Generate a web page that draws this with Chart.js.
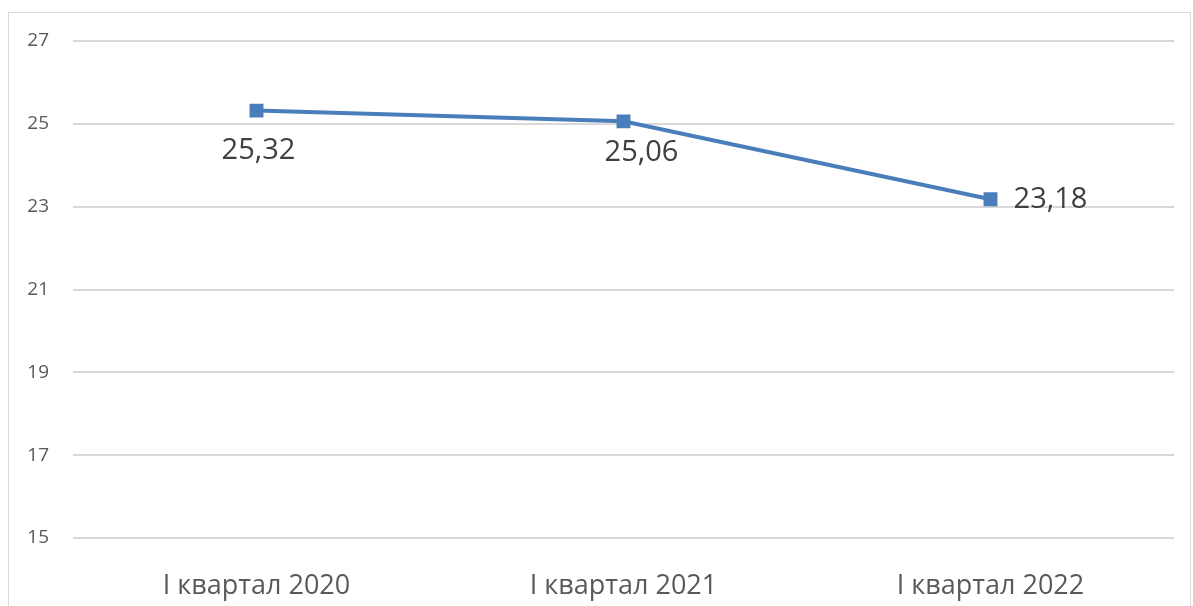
<!DOCTYPE html>
<html>
<head>
<meta charset="utf-8">
<script src="https://cdn.jsdelivr.net/npm/chart.js@4"></script>
<style>
  html, body { margin: 0; padding: 0; background: #fff; overflow: hidden; }
  #wrap { position: relative; width: 1193px; height: 606px; }
  #frame { position: absolute; left: 8px; top: 12px; width: 1183px; height: 620px; border: 1px solid #d9d9d9; box-sizing: border-box; }
  canvas { position: absolute; left: 0; top: 0; }
</style>
</head>
<body>
<div id="wrap">
  <div id="frame"></div>
  <canvas id="chart" width="1193" height="606"></canvas>
</div>
<script>
const labels = ['I квартал 2020', 'I квартал 2021', 'I квартал 2022'];
const values = [25.32, 25.06, 23.18];
const valueText = ['25,32', '25,06', '23,18'];

// where each value label sits relative to its point
const labelOffsets = [[2, 40], [18, 31], [60, 1]];

const valueLabels = {
  id: 'valueLabels',
  afterDatasetsDraw(chart) {
    const ctx = chart.ctx;
    const meta = chart.getDatasetMeta(0);
    ctx.save();
    ctx.font = '29px "Open Sans"';
    ctx.fillStyle = '#404040';
    ctx.textAlign = 'center';
    ctx.textBaseline = 'middle';
    meta.data.forEach((pt, i) => {
      ctx.fillText(valueText[i], pt.x + labelOffsets[i][0], pt.y + labelOffsets[i][1]);
    });
    ctx.restore();
  }
};

new Chart(document.getElementById('chart'), {
  type: 'line',
  data: {
    labels: labels,
    datasets: [{
      data: values,
      borderColor: '#4a7ebb',
      backgroundColor: '#4a7ebb',
      borderWidth: 4,
      pointStyle: 'rect',
      pointRadius: 7,
      pointHoverRadius: 7,
      tension: 0
    }]
  },
  options: {
    responsive: false,
    animation: false,
    layout: { padding: { left: 0, top: 41, right: 19, bottom: 0 } },
    plugins: {
      legend: { display: false },
      tooltip: { enabled: false }
    },
    scales: {
      x: {
        offset: true,
        grid: { display: false },
        border: { display: false },
        ticks: { color: '#595959', font: { family: 'Open Sans', size: 27 }, padding: 24 },
        afterFit: s => { s.height = 68; }
      },
      y: {
        min: 15,
        max: 27,
        ticks: { stepSize: 2, color: '#595959', font: { family: 'Open Sans', size: 19 }, padding: 24 },
        grid: { color: '#d9d9d9', lineWidth: 2, drawTicks: false },
        border: { display: false },
        afterFit: s => { s.width = 73; }
      }
    }
  },
  plugins: [valueLabels]
});
</script>
</body>
</html>
